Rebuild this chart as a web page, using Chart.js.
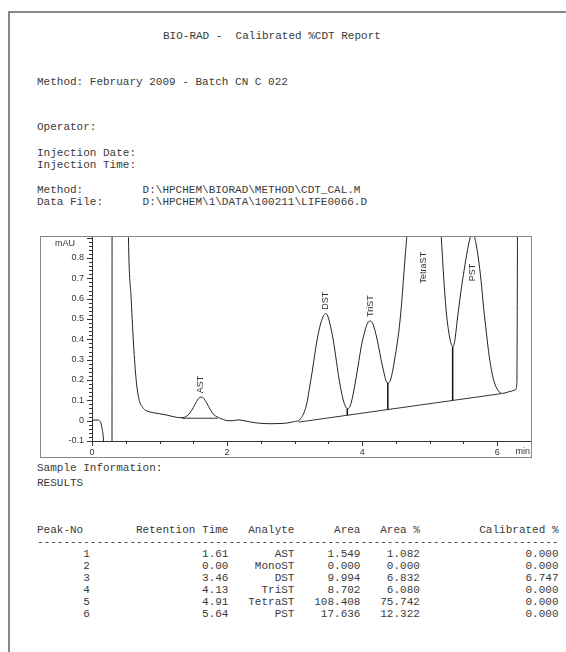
<!DOCTYPE html>
<html>
<head>
<meta charset="utf-8">
<script src="https://cdn.jsdelivr.net/npm/chart.js@4.4.1/dist/chart.umd.min.js"></script>
<style>
html, body { margin: 0; padding: 0; background: #fff; }
body { width: 566px; height: 652px; position: relative; overflow: hidden;
       font-family: "Liberation Mono", monospace; font-size: 11px; color: #3a3a3a; }
#page { position: absolute; left: 8px; top: 11px; right: 0; bottom: 0;
        border-left: 2px solid #888; border-top: 2px solid #888; }
.ln { position: absolute; left: 37px; white-space: pre; line-height: 12px; }
#wrap { position: absolute; left: 40px; top: 236px; width: 491px; height: 221px; }
#frame { position: absolute; left: 40px; top: 236px; width: 490px; height: 220px;
         border: 1px solid #888; pointer-events: none; }
</style>
</head>
<body>
<div id="page"></div>

<div class="ln" style="left:163px;top:30px">BIO-RAD -  Calibrated %CDT Report</div>
<div class="ln" style="top:76px">Method: February 2009 - Batch CN C 022</div>
<div class="ln" style="top:121px">Operator:</div>
<div class="ln" style="top:147px">Injection Date:
Injection Time:</div>
<div class="ln" style="top:184px">Method:         D:\HPCHEM\BIORAD\METHOD\CDT_CAL.M
Data File:      D:\HPCHEM\1\DATA\100211\LIFE0066.D</div>

<div id="wrap"><canvas id="chrom" width="491" height="221"></canvas></div>
<div id="frame"></div>

<div class="ln" style="top:462px">Sample Information:</div>
<div class="ln" style="top:477px">RESULTS</div>
<div class="ln" id="table" style="top:524px"></div>

<script>
// chromatogram trace (time in min, signal in mAU)
var traceT = [0.00, 0.05, 0.09, 0.11, 0.13, 0.15, 0.17, 0.19, 0.21, 0.28, 0.295, 0.30, 0.50, 0.52, 0.54,
              0.58, 0.62, 0.66, 0.70, 0.75, 0.80, 0.90, 1.00, 1.10, 1.20, 1.30, 1.35, 1.40, 1.45, 1.50,
              1.55, 1.60, 1.62, 1.65, 1.70, 1.75, 1.80, 1.85, 1.90, 1.95, 2.00, 2.08, 2.17, 2.25, 2.35,
              2.50, 2.65, 2.80, 2.90, 2.97, 3.00, 3.06, 3.10, 3.14, 3.18, 3.22, 3.26, 3.30, 3.34, 3.38,
              3.42, 3.46, 3.49, 3.52, 3.57, 3.62, 3.66, 3.70, 3.74, 3.78, 3.82, 3.86, 3.90, 3.94, 3.99,
              4.04, 4.08, 4.12, 4.16, 4.20, 4.24, 4.28, 4.32, 4.35, 4.38, 4.42, 4.46, 4.50, 4.54, 4.58,
              4.61, 4.64, 4.67, 4.72, 4.80, 4.91, 5.00, 5.08, 5.13, 5.17, 5.21, 5.25, 5.29, 5.32, 5.34,
              5.37, 5.41, 5.46, 5.51, 5.56, 5.60, 5.64, 5.68, 5.72, 5.76, 5.80, 5.84, 5.88, 5.92, 5.96,
              6.00, 6.04, 6.08, 6.15, 6.22, 6.27, 6.29, 6.30, 6.31, 6.50];
var traceV = [0.002, 0.003, 0.003, 0.000, -0.010, -0.040, -0.100, -0.300, -0.600, -0.600, -0.600, 3.000, 3.000, 1.500, 0.900,
              0.600, 0.350, 0.180, 0.100, 0.065, 0.050, 0.040, 0.034, 0.028, 0.020, 0.015, 0.015, 0.022, 0.038, 0.064,
              0.095, 0.115, 0.116, 0.111, 0.086, 0.055, 0.031, 0.019, 0.011, 0.005, 0.000, 0.000, 0.004, 0.000, -0.007,
              -0.013, -0.015, -0.014, -0.011, -0.006, -0.004, 0.000, 0.015, 0.040, 0.084, 0.160, 0.240, 0.330, 0.410, 0.470,
              0.510, 0.527, 0.515, 0.480, 0.400, 0.290, 0.200, 0.130, 0.080, 0.059, 0.070, 0.120, 0.190, 0.270, 0.370,
              0.440, 0.480, 0.490, 0.475, 0.430, 0.370, 0.300, 0.240, 0.200, 0.185, 0.200, 0.260, 0.340, 0.430, 0.560,
              0.690, 0.820, 0.950, 1.300, 2.500, 4.000, 2.800, 1.500, 1.100, 0.910, 0.690, 0.520, 0.420, 0.375, 0.363,
              0.390, 0.500, 0.630, 0.740, 0.840, 0.900, 0.920, 0.880, 0.800, 0.690, 0.550, 0.430, 0.320, 0.240, 0.185,
              0.155, 0.138, 0.134, 0.140, 0.146, 0.152, 0.180, 1.000, 3.000, 3.000];

// integration baselines: AST, then the common baseline under DST..PST
var baseT = [1.33, 1.86, 3.06, 6.06];
var baseV = [0.012, 0.012, -0.007, 0.133];

// drop lines at the valleys
var dropT = [3.78, 4.38, 5.34];
var dropTop = [0.059, 0.185, 0.363];
var dropBottom = [0.027, 0.055, 0.099];

// peak labels
var peakNames = ['AST', 'DST', 'TriST', 'TetraST', 'PST'];
var peakTimes = [1.61, 3.46, 4.13, 4.91, 5.64];
var labelHeights = [0.135, 0.545, 0.51, 0.675, 0.685];

// axis ticks
var yTicks = [-0.1, 0, 0.1, 0.2, 0.3, 0.4, 0.5, 0.6, 0.7, 0.8];
var xLabels = [0, 2, 4, 6];

// results table
var peakNo = [1, 2, 3, 4, 5, 6];
var retTime = ['1.61', '0.00', '3.46', '4.13', '4.91', '5.64'];
var analyte = ['AST', 'MonoST', 'DST', 'TriST', 'TetraST', 'PST'];
var area = ['1.549', '0.000', '9.994', '8.702', '108.408', '17.636'];
var areaPct = ['1.082', '0.000', '6.832', '6.080', '75.742', '12.322'];
var calPct = ['0.000', '0.000', '6.747', '0.000', '0.000', '0.000'];

var lines = [];
lines.push('Peak-No'.padEnd(15) + 'Retention Time' + 'Analyte'.padStart(10) + 'Area'.padStart(10) +
           'Area %'.padStart(9) + 'Calibrated %'.padStart(21));
lines.push('-'.repeat(79));
for (var i = 0; i < peakNo.length; i++) {
  lines.push(String(peakNo[i]).padStart(8) + retTime[i].padStart(21) + analyte[i].padStart(10) +
             area[i].padStart(10) + areaPct[i].padStart(9) + calPct[i].padStart(21));
}
document.getElementById('table').textContent = lines.join('\n');

var trace = traceT.map(function (t, i) { return {x: t, y: traceV[i]}; });
var baseline = [
  {x: baseT[0], y: baseV[0]}, {x: baseT[1], y: baseV[1]}, {x: 2.5, y: null},
  {x: baseT[2], y: baseV[2]}, {x: baseT[3], y: baseV[3]}
];
var drops = [];
dropT.forEach(function (t, i) {
  drops.push({x: t, y: dropTop[i]}, {x: t, y: dropBottom[i]}, {x: t + 0.01, y: null});
});

var sansFont = {family: '"Liberation Sans", Arial, sans-serif', size: 9};

// minor ticks, peak names, unit labels
var decor = {
  id: 'decor',
  afterDraw: function (chart) {
    var ctx = chart.ctx, a = chart.chartArea, x = chart.scales.x, y = chart.scales.y;
    ctx.save();
    ctx.strokeStyle = '#333';
    ctx.lineWidth = 1;
    ctx.beginPath();
    for (var i = -5; i <= 45; i++) {
      var py = Math.round(y.getPixelForValue(i * 0.02)) + 0.5;
      var len = (i % 5 === 0) ? 5 : 3;
      ctx.moveTo(a.left - len, py);
      ctx.lineTo(a.left, py);
    }
    for (var j = 0; j <= 13; j++) {
      var px = Math.round(x.getPixelForValue(j * 0.5)) + 0.5;
      var l2 = (j % 4 === 0) ? 5 : 3;
      ctx.moveTo(px, a.bottom);
      ctx.lineTo(px, a.bottom + l2);
    }
    ctx.stroke();

    ctx.fillStyle = '#333';
    ctx.font = '9px "Liberation Sans", Arial, sans-serif';
    peakNames.forEach(function (n, k) {
      ctx.save();
      ctx.translate(x.getPixelForValue(peakTimes[k]), y.getPixelForValue(labelHeights[k]));
      ctx.rotate(-Math.PI / 2);
      ctx.textAlign = 'left';
      ctx.textBaseline = 'middle';
      ctx.fillText(n, 0, 0);
      ctx.restore();
    });
    ctx.textAlign = 'right';
    ctx.textBaseline = 'top';
    ctx.fillText('mAU', a.left - 17, 3);
    ctx.textBaseline = 'bottom';
    ctx.fillText('min', a.right - 1, chart.height - 1);
    ctx.restore();
  }
};

function noPad(scale) {
  scale.paddingTop = 0; scale.paddingBottom = 0;
  scale.paddingLeft = 0; scale.paddingRight = 0;
}

new Chart(document.getElementById('chrom').getContext('2d'), {
  type: 'line',
  data: {
    datasets: [
      {data: trace, borderColor: '#222', borderWidth: 1, pointRadius: 0, cubicInterpolationMode: 'monotone'},
      {data: baseline, borderColor: '#333', borderWidth: 1, pointRadius: 0, tension: 0, spanGaps: false},
      {data: drops, borderColor: '#111', borderWidth: 1.5, pointRadius: 0, tension: 0, spanGaps: false}
    ]
  },
  options: {
    responsive: false,
    animation: false,
    events: [],
    layout: {padding: 0},
    plugins: {legend: {display: false}, tooltip: {enabled: false}},
    scales: {
      x: {
        type: 'linear', min: 0, max: 6.5,
        afterFit: function (s) { s.height = 16; noPad(s); },
        ticks: {
          stepSize: 0.5, autoSkip: false, maxRotation: 0, padding: 1,
          color: '#333', font: sansFont,
          callback: function (v) { return xLabels.indexOf(v) >= 0 ? String(v) : ''; }
        },
        grid: {display: false, tickLength: 5},
        border: {display: true, color: '#333', width: 1}
      },
      y: {
        type: 'linear', min: -0.1, max: 0.908,
        afterFit: function (s) { s.width = 52; noPad(s); },
        afterBuildTicks: function (s) { s.ticks = yTicks.map(function (v) { return {value: v}; }); },
        ticks: {
          padding: 3, color: '#333', font: sansFont,
          callback: function (v) { return String(Math.round(v * 10) / 10); }
        },
        grid: {display: false, tickLength: 5},
        border: {display: true, color: '#333', width: 1}
      }
    }
  },
  plugins: [decor]
});
</script>
</body>
</html>
